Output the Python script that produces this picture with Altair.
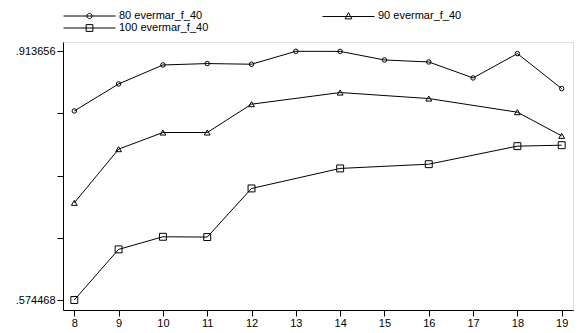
import altair as alt
import pandas as pd

ages = [8, 9, 10, 11, 12, 13, 14, 15, 16, 17, 18, 19]
s80 = [0.8323, 0.8691, 0.8950, 0.8969, 0.8960, 0.913656, 0.9135, 0.9018, 0.8991, 0.8773, 0.9105, 0.8628]
ages_sparse = [8, 9, 10, 11, 12, 14, 16, 18, 19]
s90 = [0.7070, 0.7802, 0.8029, 0.8029, 0.8415, 0.8574, 0.8492, 0.8306, 0.7983]
s100 = [0.574468, 0.6435, 0.6607, 0.6603, 0.7266, 0.7539, 0.7597, 0.7843, 0.7856]
names = ["80 evermar_f_40", "90 evermar_f_40", "100 evermar_f_40"]
y_ticks = [0.574468, 0.659265, 0.744062, 0.828859, 0.913656]

rows = []
for a, v in zip(ages, s80):
    rows.append({"age": a, "value": v, "series": names[0]})
for a, v in zip(ages_sparse, s90):
    rows.append({"age": a, "value": v, "series": names[1]})
for a, v in zip(ages_sparse, s100):
    rows.append({"age": a, "value": v, "series": names[2]})
df = pd.DataFrame(rows)

FONT = "Liberation Sans"

xscale = alt.Scale(domain=[7.745, 19.255], nice=False, zero=False)
yscale = alt.Scale(domain=[0.56085, 0.92632], nice=False, zero=False)

xaxis = alt.Axis(values=ages, title="age", grid=False, tickSize=6, labelPadding=1,
                 labelFontSize=11, labelFont=FONT, labelColor="black", tickColor="black",
                 domainColor="black", titleFont=FONT, titleFontSize=11, titleFontWeight="normal",
                 titleColor="black", titlePadding=3)
yaxis = alt.Axis(values=y_ticks, title=None, grid=False, tickSize=6, labelPadding=2,
                 labelFontSize=11, labelFont=FONT, labelColor="black", tickColor="black",
                 domainColor="black",
                 labelExpr="(datum.index == 0 || datum.index == 1) ? replace(format(datum.value, '.6f'), '0.', '.') : ''")

circ = "M-1,0H1M0.1,0A0.1,0.1 0 1,1 -0.1,0A0.1,0.1 0 1,1 0.1,0"
tri = "M-1,0.02H1M-0.13,0.11L0,-0.13L0.13,0.11Z"
sq = "M-1,0H1M-0.13,-0.13H0.13V0.13H-0.13Z"

# legend grid fills column by column: column 1 = 80, 100 ; column 2 = 90
legend_order = [names[0], names[2], names[1]]

base = alt.Chart(df)

lines = base.mark_line(color="black", strokeWidth=1).encode(
    x=alt.X("age:Q", scale=xscale, axis=xaxis),
    y=alt.Y("value:Q", scale=yscale, axis=yaxis),
    detail="series:N",
)

points = base.mark_point(filled=False, color="black", strokeWidth=1, opacity=1).encode(
    x=alt.X("age:Q", scale=xscale),
    y=alt.Y("value:Q", scale=yscale),
    shape=alt.Shape("series:N",
                    scale=alt.Scale(domain=names, range=["circle", "triangle-up", "square"]),
                    legend=None),
    size=alt.Size("series:N", scale=alt.Scale(domain=names, range=[20, 48, 46]), legend=None),
)

legend_layer = base.transform_filter("datum.age < 0").mark_point(
    filled=False, color="black", strokeWidth=1, opacity=1
).encode(
    x=alt.X("age:Q", scale=xscale),
    y=alt.Y("value:Q", scale=yscale),
    shape=alt.Shape("series:N",
                    scale=alt.Scale(domain=legend_order, range=[circ, sq, tri]),
                    legend=alt.Legend(title=None, orient="none", legendX=0, legendY=-32,
                                      columns=2, columnPadding=113, rowPadding=0,
                                      symbolSize=2704, clipHeight=12, padding=0,
                                      labelFont=FONT, labelFontSize=11, labelColor="black",
                                      labelOffset=3, symbolStrokeColor="black",
                                      symbolStrokeWidth=1, symbolFillColor="transparent",
                                      symbolOpacity=1)),
)

chart = alt.layer(lines, points, legend_layer).resolve_scale(
    shape="independent", size="independent"
).properties(
    width=510, height=268,
    padding={"left": 63, "top": 42, "right": 8, "bottom": 23},
    autosize=alt.AutoSizeParams(type="none"),
).configure_view(stroke=None).configure(background="white")

chart.save("out.html", embed_options={"renderer": "svg", "actions": False})
